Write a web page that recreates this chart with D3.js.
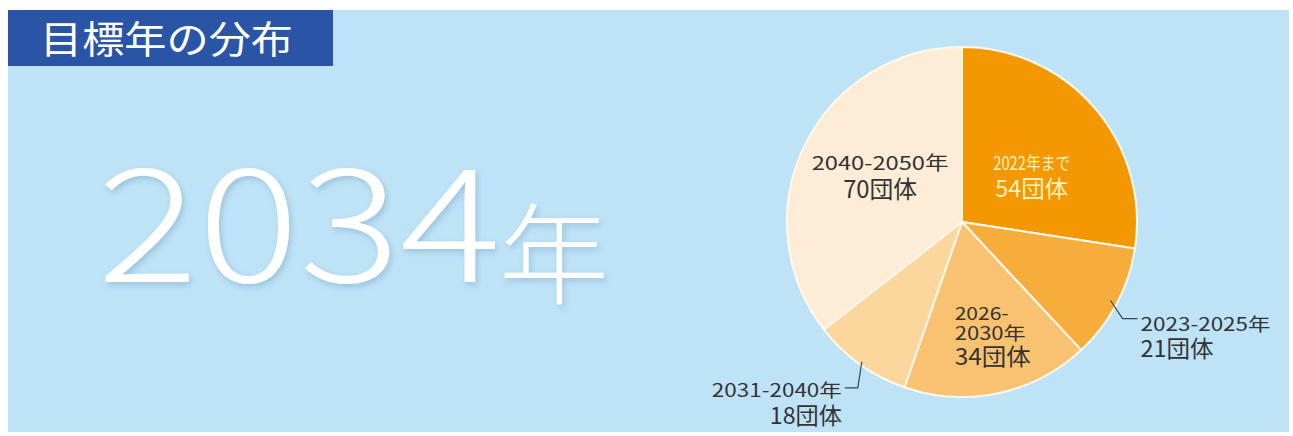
<!DOCTYPE html>
<html><head><meta charset="utf-8">
<script src="https://cdn.jsdelivr.net/npm/d3@7"></script>
<style>
html,body{margin:0;padding:0;background:#fff;}
svg{display:block;}
</style></head>
<body>
<script>
// ---- data ----
const categories = ["2022年まで", "2023-2025年", "2026-2030年", "2031-2040年", "2040-2050年"];
const labelLines = [["2022年まで"], ["2023-2025年"], ["2026-", "2030年"], ["2031-2040年"], ["2040-2050年"]];
const values = [54, 21, 34, 18, 70];
const unit = "団体";
const title = "目標年の分布";
const headlineYear = "2034";
const headlineUnit = "年";

// ---- layout / style ----
const W = 1293, H = 436;
const colors = ["#f39800", "#f6ad3b", "#f8c271", "#fbd69d", "#fdecd6"];
const FONT = "'Noto Sans CJK JP','Noto Sans',sans-serif";

const svg = d3.select("body").append("svg").attr("width", W).attr("height", H);
const defs = svg.append("defs");
const f = defs.append("filter").attr("id", "sh").attr("x", "-10%").attr("y", "-10%").attr("width", "120%").attr("height", "130%");
f.append("feDropShadow").attr("dx", 2).attr("dy", 3).attr("stdDeviation", 3).attr("flood-color", "#3a6f94").attr("flood-opacity", 0.28);

// panel
svg.append("rect").attr("x", 8).attr("y", 10).attr("width", 1281).attr("height", 422).attr("fill", "#bee3f7");
// title box
svg.append("rect").attr("x", 8).attr("y", 10).attr("width", 325).attr("height", 56).attr("fill", "#2a55a6");
svg.append("text").attr("x", 40).attr("y", 53).attr("fill", "#fff")
  .attr("font-family", FONT).attr("font-size", 38).attr("font-weight", 400)
  .attr("textLength", 253).attr("lengthAdjust", "spacingAndGlyphs")
  .text(title);

// headline
const hl = svg.append("g").attr("filter", "url(#sh)");
hl.append("text").attr("x", 97).attr("y", 282).attr("fill", "#fff")
  .attr("font-family", FONT).attr("font-size", 158).attr("font-weight", 300)
  .attr("textLength", 404).attr("lengthAdjust", "spacingAndGlyphs")
  .text(headlineYear);
hl.append("text").attr("x", 499).attr("y", 296).attr("fill", "#fff")
  .attr("font-family", FONT).attr("font-size", 110).attr("font-weight", 300)
  .text(headlineUnit);

// pie
const cx = 962, cy = 222, R = 175;
const pie = d3.pie().sort(null).value(d => d)(values);
const arc = d3.arc().innerRadius(0).outerRadius(R);
const g = svg.append("g").attr("transform", `translate(${cx},${cy})`);
g.selectAll("path").data(pie).join("path")
  .attr("d", arc).attr("fill", (d, i) => colors[i])
  .attr("stroke", "#fff8ee").attr("stroke-width", 2).attr("stroke-linejoin", "round");

const polar = (a, r) => [r * Math.sin(a), -r * Math.cos(a)];
const mid = d => (d.startAngle + d.endAngle) / 2;

// label layout per slice
const lab = [
  {r: 88, dx: 3, anchor: "middle", dys: [5, 32], sizes: [18, 23], fill: "#fff3c2", lens: [77, 73]},
  {r: 168, callout: [[12, 18], [27, 18]], dx: 30, anchor: "start", dys: [30, 56], sizes: [18, 23], fill: "#333", lens: [130, 73]},
  {r: 110, dx: -30, anchor: "start", dys: [-10, 10, 35], sizes: [18, 18, 23], fill: "#333", lens: [54, 71, 76]},
  {r: 172, callout: [[-4, 26], [-17, 26]], dx: -20, anchor: "end", dys: [35, 62], sizes: [18, 23], fill: "#333", lens: [130, 72]},
  {r: 90, dx: -1, anchor: "middle", dys: [-13, 15], sizes: [19, 24], fill: "#333", lens: [137, 74]}
];

pie.forEach((d, i) => {
  const L = lab[i];
  const [px, py] = polar(mid(d), L.r);
  if (L.callout) {
    const pts = [[px, py]].concat(L.callout.map(([x, y]) => [px + x, py + y]));
    g.append("path").attr("d", d3.line()(pts)).attr("fill", "none")
      .attr("stroke", "#3a4a55").attr("stroke-width", 1.2);
  }
  const lines = labelLines[i].concat([values[i] + unit]);
  lines.forEach((t, j) => {
    g.append("text").attr("x", px + L.dx).attr("y", py + L.dys[j])
      .attr("text-anchor", L.anchor).attr("fill", L.fill)
      .attr("font-family", FONT).attr("font-size", L.sizes[j])
      .attr("textLength", L.lens[j]).attr("lengthAdjust", "spacingAndGlyphs")
      .text(t);
  });
});
</script>
</body></html>
